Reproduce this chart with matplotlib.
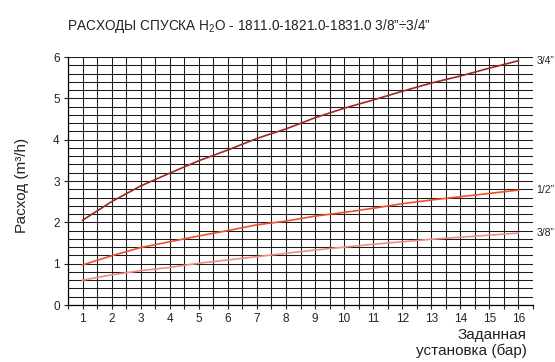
import matplotlib
matplotlib.use("Agg")
import matplotlib.pyplot as plt
import numpy as np

plt.rcParams['font.family'] = ['Liberation Sans', 'DejaVu Sans']
plt.rcParams['mathtext.fontset'] = 'custom'
plt.rcParams['mathtext.rm'] = 'Liberation Sans'
plt.rcParams['mathtext.it'] = 'Liberation Sans'

pressure = [1, 2, 3, 4, 5, 6, 7, 8, 9, 10, 11, 12, 13, 14, 15, 16]
flow_34 = [2.05, 2.50, 2.88, 3.19, 3.49, 3.75, 4.03, 4.26, 4.53, 4.76, 4.96, 5.17, 5.37, 5.54, 5.73, 5.91]
flow_12 = [0.97, 1.19, 1.39, 1.53, 1.67, 1.80, 1.94, 2.03, 2.15, 2.24, 2.34, 2.45, 2.54, 2.62, 2.70, 2.78]
flow_38 = [0.60, 0.73, 0.83, 0.91, 1.01, 1.09, 1.17, 1.25, 1.33, 1.40, 1.47, 1.53, 1.59, 1.64, 1.69, 1.74]
series_labels = ['3/4”', '1/2”', '3/8”']
colors = ['#9a2a22', '#f0502a', '#f58a82']
x_ticks = list(range(1, 17))
y_ticks = [0, 1, 2, 3, 4, 5, 6]

fig = plt.figure(figsize=(5.55, 3.62), dpi=100)
ax = fig.add_axes([68/555, 1-305/362, (533-68)/555, (305-57)/362])
ax.set_xlim(0.5, 16.5)
ax.set_ylim(0, 6)

# grid
for xv in np.arange(0.5, 16.51, 0.5):
    ax.axvline(xv, color='#1a1a1a', lw=0.75, zorder=1)
for yv in np.arange(0, 6.01, 0.2):
    ax.axhline(yv, color='#1a1a1a', lw=0.75, zorder=1)

for vals, c, lab in zip([flow_34, flow_12, flow_38], colors, series_labels):
    ax.plot(pressure, vals, color=c, lw=1.2, zorder=3)
    ax.annotate(lab, xy=(16.5, vals[-1]), xytext=(2.5, 0), textcoords='offset points',
                ha='left', va='center', fontsize=7.5, color='#222222', annotation_clip=False)

for s in ['top', 'right']:
    ax.spines[s].set_visible(False)
ax.spines['left'].set_linewidth(0.9)
ax.spines['bottom'].set_linewidth(0.9)

ax.set_xticks(x_ticks)
ax.set_xticks(np.arange(0.5, 16.51, 0.5), minor=True)
ax.set_yticks(y_ticks)
ax.tick_params(axis='x', which='both', direction='out', length=3, width=0.8, labelsize=8.5, pad=3, colors='#222222')
ax.tick_params(axis='y', which='both', direction='out', length=3, width=0.8, labelsize=8.5, pad=3, colors='#222222')

fig.text(22/555, 1-185/362, 'Расход (m³/h)', rotation=90, ha='center', va='center', fontsize=11, color='#222222')
fig.text(527/555, 1-335/362, 'Заданная', ha='right', va='center', fontsize=11, color='#222222')
fig.text(527/555, 1-351/362, 'установка (бар)', ha='right', va='center', fontsize=11, color='#222222')
fig.text(67/555, 1-26/362, 'РАСХОДЫ СПУСКА H$_2$O - 1811.0-1821.0-1831.0 3/8”÷3/4”', ha='left', va='center', fontsize=9.8, color='#222222')

fig.savefig('out.png', dpi=100)
